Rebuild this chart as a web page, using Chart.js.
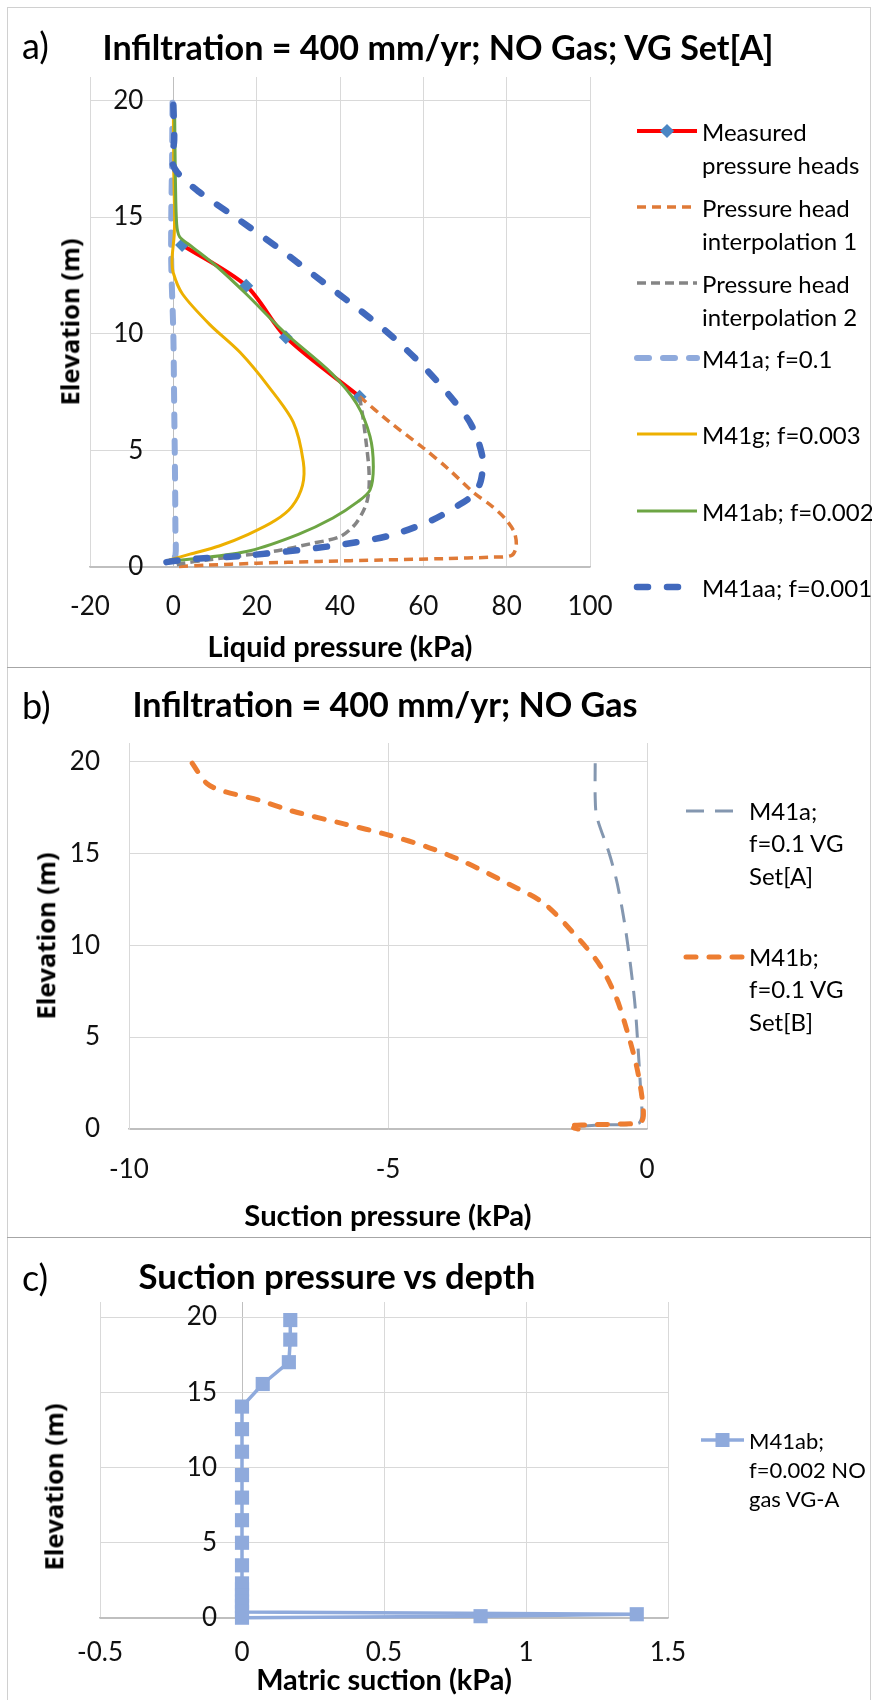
<!DOCTYPE html>
<html>
<head>
<meta charset="utf-8">
<title>Pressure profiles</title>
<script src="https://cdn.jsdelivr.net/npm/chart.js@4.4.1/dist/chart.umd.min.js"></script>
<style>
  body { margin: 0; background: #fff; }
  #page { position: relative; width: 872px; height: 1700px; overflow: hidden; font-family: Lato, 'Open Sans', sans-serif; color: #000; }
  canvas { position: absolute; left: 0; }
  #frame { position: absolute; left: 7px; top: 7px; width: 864px; height: 1720px; border: 1px solid #d0d0d0; box-sizing: border-box; }
  .rule { position: absolute; left: 7px; width: 864px; height: 0; border-top: 1px solid #a6a6a6; }
  .t { position: absolute; white-space: nowrap; line-height: 1; }
  .mid { transform: translate(-50%, -50%); }
  .lft { transform: translateY(-50%); }
  .tag { font-size: 36px; }
  .title { font-weight: 700; font-size: 35px; }
  .axt { font-weight: 700; font-size: 27px; }
  .yt { font-family: 'Open Sans', sans-serif; font-weight: 700; font-size: 25px; transform: translate(-50%, -50%) rotate(-90deg); }
  .leg { position: absolute; white-space: nowrap; }
</style>
</head>
<body>
<div id="page">
  <div id="frame"></div>
  <div class="rule" style="top:667px"></div>
  <div class="rule" style="top:1237px"></div>

  <canvas id="chartA" width="872" height="667" style="top:0"></canvas>
  <canvas id="chartB" width="872" height="570" style="top:667px"></canvas>
  <canvas id="chartC" width="872" height="463" style="top:1237px"></canvas>

  <div class="t lft tag" style="left:22px;top:45px">a)</div>
  <div class="t mid title" data-w="671" style="left:438px;top:47px">Infiltration = 400 mm/yr; NO Gas; VG Set[A]</div>
  <div class="t mid axt" data-w="265" style="left:340px;top:646px">Liquid pressure (kPa)</div>
  <div class="t yt" data-w="167" style="left:70px;top:322px">Elevation (m)</div>

  <div class="t lft tag" style="left:22px;top:705px">b)</div>
  <div class="t mid title" data-w="505" style="left:385px;top:704px">Infiltration = 400 mm/yr; NO Gas</div>
  <div class="t mid axt" data-w="287" style="left:388px;top:1215px">Suction pressure (kPa)</div>
  <div class="t yt" data-w="167" style="left:46px;top:936px">Elevation (m)</div>

  <div class="t lft tag" style="left:22px;top:1277px">c)</div>
  <div class="t mid title" data-w="397" style="left:337px;top:1276px">Suction pressure vs depth</div>
  <div class="t mid axt" data-w="256" style="left:384px;top:1679px">Matric suction (kPa)</div>
  <div class="t yt" data-w="167" style="left:54px;top:1487px">Elevation (m)</div>
</div>

<script>
// shared y ticks (elevation, m)
const elevTicks = [0, 5, 10, 15, 20];

// ---- panel a: liquid pressure (kPa) vs elevation (m)
const measuredKpa  = [2.1, 17.5, 27.0, 44.7];
const measuredElev = [13.8, 12.05, 9.85, 7.3];

const interp1Kpa  = [44.7, 52, 60, 66, 72, 76.5, 79.5, 81.8, 82.3, 81.2, 76, 65, 50, 35, 20, 8, 1];
const interp1Elev = [7.3, 6.2, 5.1, 4.2, 3.2, 2.6, 2.1, 1.5, 0.9, 0.5, 0.42, 0.36, 0.3, 0.24, 0.16, 0.08, 0.02];

const interp2Kpa  = [44.7, 45.6, 46.3, 46.9, 47.0, 46.6, 45.6, 43.5, 40, 33, 25, 17, 8, 2, 0];
const interp2Elev = [7.3, 6.3, 5.3, 4.3, 3.5, 2.9, 2.4, 1.8, 1.3, 1.0, 0.7, 0.5, 0.3, 0.15, 0.05];

const m41aKpaA  = [-0.2, -0.3, -0.5, -0.5, 0, 0.2, 0.4, 0.5, 0.5, -0.5, -1.5];
const m41aElevA = [19.9, 17.5, 15, 13, 10, 7, 4, 1.5, 0.5, 0.3, 0.2];

const m41gKpa  = [0, 0.1, 0.3, 0.2, -0.3, 0, 2.2, 8.7, 16, 23, 28.8, 31.2, 31, 28.5, 24.5, 18, 11, 4, -1];
const m41gElev = [19.8, 17, 15, 14.2, 13.2, 12.6, 11.7, 10.4, 9.2, 7.7, 6.2, 4.5, 3.5, 2.6, 2.0, 1.4, 0.9, 0.55, 0.3];

const m41abKpa  = [0.3, 0.4, 0.5, 0.8, 1.5, 3.9, 10.3, 17.5, 27, 38, 44, 47.2, 48, 47.2, 44.3, 38.3, 30, 18.4, 5, -1.5];
const m41abElev = [19.8, 18, 16.6, 14.7, 14.15, 13.8, 12.9, 11.7, 10.0, 8.3, 7.0, 5.6, 4.3, 3.3, 2.8, 2.1, 1.4, 0.7, 0.35, 0.25];

const m41aaKpa  = [0, 0.2, -0.3, 1, 6, 14, 25, 36, 47, 53, 60, 66.5, 71.5, 74.2, 73.8, 72, 68, 62, 52, 38, 18, 3, -2];
const m41aaElev = [19.8, 18.3, 17.4, 16.9, 16.1, 15.1, 13.7, 12.2, 10.7, 9.8, 8.6, 7.3, 6.1, 4.7, 3.7, 3.1, 2.6, 2.0, 1.35, 0.9, 0.5, 0.32, 0.2];

// ---- panel b: suction pressure (kPa) vs elevation (m)
const m41aKpaB  = [-1.0, -1.0, -0.97, -0.73, -0.57, -0.4, -0.24, -0.17, -0.13, -0.1, -0.17, -0.87, -1.4];
const m41aElevB = [19.9, 18, 17, 15, 13.3, 10.6, 7, 4.3, 2.5, 0.7, 0.3, 0.22, 0.13];

const m41bKpa  = [-8.78, -8.5, -8.2, -7.5, -6.85, -5.85, -5.0, -4.2, -3.5, -2.65, -2.0, -1.4, -0.93, -0.6, -0.37, -0.2, -0.1, -0.07, -0.13, -0.55, -1.2, -1.53, -1.33];
const m41bElev = [19.9, 18.8, 18.4, 17.9, 17.3, 16.6, 16.0, 15.3, 14.5, 13.3, 12.3, 10.6, 9.0, 7.2, 5.2, 3.4, 1.8, 0.7, 0.35, 0.27, 0.22, 0.16, 0.0];

// ---- panel c: matric suction (kPa) vs elevation (m)
const suctionKpa  = [0.17, 0.17, 0.165, 0.073, 0, 0, 0, 0, 0, 0, 0, 0, 0, 0, 0, 0, 0, 0.0, 1.39, 0.84, 0];
const suctionElev = [19.8, 18.5, 17.0, 15.55, 14.05, 12.55, 11.05, 9.5, 8.0, 6.5, 5.0, 3.5, 2.3, 1.9, 1.5, 1.1, 0.8, 0.4, 0.25, 0.12, 0.02];

function pts(xs, ys) {
  return xs.map((x, i) => ({ x: x, y: ys[i] }));
}

// series styles (legend order; later series drawn on top like Excel)
const seriesA = [
  { name: ['Measured', 'pressure heads'], x: measuredKpa, y: measuredElev, color: '#FF0000', width: 4, marker: 'rectRot', markerColor: '#4A86C4', radius: 7, tension: 0.3 },
  { name: ['Pressure head', 'interpolation 1'], x: interp1Kpa, y: interp1Elev, color: '#DF7A37', width: 3.5, dash: [9, 6] },
  { name: ['Pressure head', 'interpolation 2'], x: interp2Kpa, y: interp2Elev, color: '#858585', width: 3.5, dash: [9, 5] },
  { name: ['M41a; f=0.1'], x: m41aKpaA, y: m41aElevA, color: '#8FAADC', width: 6, dash: [12, 14], cap: 'round' },
  { name: ['M41g; f=0.003'], x: m41gKpa, y: m41gElev, color: '#EDB000', width: 3 },
  { name: ['M41ab; f=0.002'], x: m41abKpa, y: m41abElev, color: '#6DA544', width: 3 },
  { name: ['M41aa; f=0.001'], x: m41aaKpa, y: m41aaElev, color: '#4169BD', width: 6.5, dash: [11, 19], cap: 'round' }
];

const seriesB = [
  { name: ['M41a;', 'f=0.1 VG', 'Set[A]'], x: m41aKpaB, y: m41aElevB, color: '#8497B0', width: 3, dash: [18, 11] },
  { name: ['M41b;', 'f=0.1 VG', 'Set[B]'], x: m41bKpa, y: m41bElev, color: '#ED7D31', width: 5, dash: [10, 13], cap: 'round' }
];

const seriesC = [
  { name: ['M41ab;', 'f=0.002 NO', 'gas VG-A'], x: suctionKpa, y: suctionElev, color: '#8FAADC', width: 3.5, marker: 'rect', markerColor: '#8FAADC', radius: 10, tension: 0 }
];

function toDatasets(series) {
  const n = series.length;
  return series.map((s, i) => ({
    data: pts(s.x, s.y),
    showLine: true,
    borderColor: s.color,
    borderWidth: s.width,
    borderDash: s.dash || [],
    borderCapStyle: s.cap || 'butt',
    borderJoinStyle: 'round',
    tension: s.tension === undefined ? 0.3 : s.tension,
    pointStyle: s.marker || 'circle',
    pointRadius: s.marker ? s.radius : 0,
    pointBackgroundColor: s.markerColor,
    pointBorderWidth: 0,
    clip: false,
    order: n - 1 - i
  }));
}

const tickFont = { family: 'Lato', size: 26 };
const gridLight = '#d9d9d9';
const axisGray = '#bfbfbf';

// labelAt: x value where the y labels end (panels a and c keep them inside the plot, left of x = 0)
function makeChart(id, series, xr, labelAt, xPad, pad) {
  const inside = labelAt !== null;
  const yAxis = {
    type: 'linear',
    position: inside ? { x: labelAt } : 'left',
    min: 0, max: 21,
    afterBuildTicks: s => { s.ticks = elevTicks.map(v => ({ value: v })); },
    ticks: { padding: 29, font: tickFont, color: '#111' },
    grid: {
      drawTicks: false,
      lineWidth: 1,
      color: c => (c.tick && c.tick.value === 0) ? axisGray : gridLight
    },
    border: { display: !inside, color: gridLight, width: 1 }
  };
  if (!inside) yAxis.afterFit = s => { s.width = 100; };

  return new Chart(document.getElementById(id), {
    type: 'scatter',
    data: { datasets: toDatasets(series) },
    options: {
      responsive: false,
      animation: false,
      events: [],
      layout: { padding: pad },
      plugins: { legend: { display: false }, tooltip: { enabled: false } },
      scales: {
        x: {
          type: 'linear',
          position: 'bottom',
          min: xr[0], max: xr[1],
          ticks: { stepSize: xr[2], padding: xPad, font: tickFont, color: '#111', maxRotation: 0, callback: v => String(v) },
          grid: {
            drawTicks: false,
            lineWidth: 1,
            color: c => (inside && c.tick && c.tick.value === 0) ? axisGray : gridLight
          },
          border: { color: axisGray, width: 1.5 },
          afterFit: s => { s.height = 60; }
        },
        y: yAxis
      }
    }
  });
}

// plot areas: a x 90..590, y 77..567 ; b x 129..647, y 743..1129 ; c x 100..668, y 1302..1618
makeChart('chartA', seriesA, [-20, 100, 20], -7.2, 24, { left: 90, right: 282, top: 77, bottom: 40 });
makeChart('chartB', seriesB, [-10, 0, 5], null, 25, { left: 29, right: 225, top: 76, bottom: 48 });
makeChart('chartC', seriesC, [-0.5, 1.5, 0.5], -0.088, 19, { left: 100, right: 204, top: 65, bottom: 22 });

// legends (html, built from the same series styles)
function legend(series, o) {
  const page = document.getElementById('page');
  const w = o.x1 - o.x0;
  series.forEach((s, i) => {
    const cy = o.rows[i];
    let g = '<line x1="0" y1="10" x2="' + w + '" y2="10" stroke="' + s.color + '" stroke-width="' + s.width + '"' +
      (s.dash ? ' stroke-dasharray="' + s.dash.join(' ') + '"' : '') +
      ' stroke-linecap="' + (s.cap || 'butt') + '"/>';
    if (s.marker === 'rectRot') {
      g += '<rect x="' + (w / 2 - 5) + '" y="5" width="10" height="10" fill="' + s.markerColor + '" transform="rotate(45 ' + (w / 2) + ' 10)"/>';
    }
    if (s.marker === 'rect') {
      g += '<rect x="' + (w / 2 - 7) + '" y="3" width="14" height="14" fill="' + s.markerColor + '"/>';
    }
    const box = document.createElement('div');
    box.innerHTML = '<svg width="' + w + '" height="20" style="position:absolute;left:' + o.x0 + 'px;top:' + (cy - 10) + 'px;overflow:visible">' + g + '</svg>';
    page.appendChild(box.firstChild);

    const txt = document.createElement('div');
    txt.className = 'leg';
    txt.style.cssText = 'left:' + o.tx + 'px;top:' + (cy - o.lh / 2) + 'px;font-size:' + o.fs + 'px;line-height:' + o.lh + 'px';
    txt.innerHTML = s.name.join('<br>');
    page.appendChild(txt);
  });
}

legend(seriesA, { x0: 637, x1: 697, tx: 702, fs: 24, lh: 33, rows: [131, 207, 283, 358, 434, 511, 587] });
legend(seriesB, { x0: 686, x1: 744, tx: 749, fs: 24, lh: 32.5, rows: [811, 957] });
legend(seriesC, { x0: 701, x1: 744, tx: 749, fs: 22, lh: 29, rows: [1440] });

// scale heading fonts so they span the same width as in the figure
document.querySelectorAll('[data-w]').forEach(el => {
  const fs = parseFloat(getComputedStyle(el).fontSize);
  el.style.fontSize = (fs * parseFloat(el.dataset.w) / el.offsetWidth).toFixed(2) + 'px';
});
</script>
</body>
</html>
